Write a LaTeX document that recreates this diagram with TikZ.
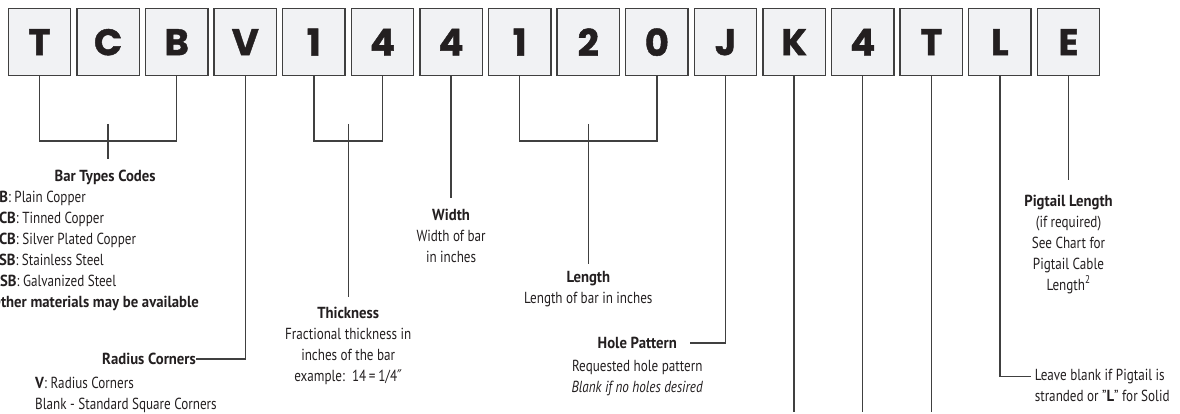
\documentclass[tikz,border=0pt]{standalone}
\usepackage{fontspec}
\setmainfont{PT Sans}[FakeStretch=0.82, BoldFeatures={FakeStretch=0.92}]
\newfontfamily\codefont{Poppins}[BoldFeatures={FakeBold=1.2}]
\newfontfamily\symfont{DejaVu Sans}[FakeStretch=0.82]
\usetikzlibrary{positioning,calc}
\definecolor{boxfill}{HTML}{F1F2F4}
\definecolor{boxline}{HTML}{404040}
\definecolor{inkdark}{HTML}{231F20}

\begin{document}
\begin{tikzpicture}[
    x=1pt, y=1pt,
    node distance=6.1pt,
    every node/.style={text=inkdark, font=\fontsize{16}{21}\selectfont},
    codebox/.style={rectangle, draw=boxline, line width=1.4pt, fill=boxfill,
                    minimum width=62.5pt, minimum height=67pt,
                    inner sep=0pt, outer sep=0pt,
                    font=\codefont\bfseries\fontsize{37}{37}\selectfont},
    conn/.style={draw=boxline, line width=1.3pt},
    head/.style={inner sep=0pt, font=\fontsize{16}{21}\selectfont\bfseries},
    desc/.style={inner sep=0pt, align=center},
  ]
  \useasboundingbox (0,0) rectangle (1180,414);

  % Code boxes
  \node[codebox] (typeT) at (39.5,371.8) {T};
  \node[codebox, right=of typeT]    (typeC)    {C};
  \node[codebox, right=of typeC]    (typeB)    {B};
  \node[codebox, right=of typeB]    (radius)   {V};
  \node[codebox, right=of radius]   (thickA)   {1};
  \node[codebox, right=of thickA]   (thickB)   {4};
  \node[codebox, right=of thickB]   (widthbox) {4};
  \node[codebox, right=of widthbox] (lenA)     {1};
  \node[codebox, right=of lenA]     (lenB)     {2};
  \node[codebox, right=of lenB]     (lenC)     {0};
  \node[codebox, right=of lenC]     (hole)     {J};
  \node[codebox, right=of hole]     (codeK)    {K};
  \node[codebox, right=of codeK]    (code4)    {4};
  \node[codebox, right=of code4]    (codeT)    {T};
  \node[codebox, right=of codeT]    (solid)    {L};
  \node[codebox, right=of solid]    (pigtail)  {E};

  % Bar type codes
  \draw[conn] (typeT.south) -- ++(0,-65.3) -| (typeB.south);
  \coordinate[below=48.3pt of typeC] (typestem);
  \coordinate[below=83.3pt of typeC] (typefoot);
  \draw[conn] (typestem) -- (typefoot);
  \node[head, below=11pt of typefoot, xshift=-3pt] (typetitle) {Bar Types Codes};
  \node[desc, align=left, anchor=north west] (typelist) at (-9,223)
    {\textbf{CB}: Plain Copper\\
     \textbf{TCB}: Tinned Copper\\
     \textbf{SCB}: Silver Plated Copper\\
     \textbf{SSB}: Stainless Steel\\
     \textbf{GSB}: Galvanized Steel\\
     \textbf{Other materials may be available}};

  % Radius corners
  \node[head, anchor=east] (radtitle) at (196,55) {Radius Corners};
  \draw[conn] (radius.south) |- (radtitle.east);
  \node[desc, align=left, anchor=north west] (radlist) at (35,37)
    {\textbf{V}: Radius Corners\\Blank - Standard Square Corners};

  % Thickness
  \draw[conn] (thickA.south) -- ++(0,-65.3) -| (thickB.south);
  \coordinate (thickstem) at ($(thickA.south)!.5!(thickB.south)+(0,-48.3)$);
  \coordinate (thickfoot) at ($(thickstem)+(0,-173)$);
  \draw[conn] (thickstem) -- (thickfoot);
  \node[desc, below=9.5pt of thickfoot] (thicktext)
    {\textbf{Thickness}\\Fractional thickness in\\inches of the bar\\example:\ \ 14\,=\,1/4{\symfont ″}};

  % Width
  \coordinate[below=122.3pt of widthbox] (widthfoot);
  \draw[conn] (widthbox.south) -- (widthfoot);
  \node[desc, below=10.5pt of widthfoot] (widthtext)
    {\textbf{Width}\\Width of bar\\in inches};

  % Length
  \coordinate (lenstem) at ($(lenA.south)!.5!(lenC.south)+(0,-48.3)$);
  \draw[conn] (lenA.south) -- ++(0,-65.3) -| (lenC.south);
  \coordinate (lenfoot) at ($(lenstem)+(0,-140)$);
  \draw[conn] (lenstem) -- (lenfoot);
  \node[desc, below=7pt of lenfoot] (lentext)
    {\textbf{Length}\\Length of bar in inches};

  % Hole pattern
  \coordinate[below=267.3pt of hole] (holecorner);
  \node[head, anchor=east] (holetitle) at ($(holecorner)+(-48.5,0)$) {Hole Pattern};
  \coordinate[right=13pt of holetitle] (holeend);
  \draw[conn] (hole.south) |- (holeend);
  \node[desc, below=11pt of holetitle] (holetext)
    {Requested hole pattern\\\textit{Blank if no holes desired}};

  % Open ends
  \coordinate (floor) at (0,2);
  \draw[conn] (codeK.south) -- (codeK.south |- floor);
  \draw[conn] (code4.south) -- (code4.south |- floor);
  \draw[conn] (codeT.south) -- (codeT.south |- floor);

  % Solid pigtail
  \coordinate[below=301pt of solid] (solidcorner);
  \coordinate[right=30.7pt of solidcorner] (solidend);
  \draw[conn] (solid.south) |- (solidend);
  \node[desc, align=left, anchor=north west] (solidnote) at ($(solidend)+(4,7.5)$)
    {Leave blank if Pigtail is\\stranded or "\textbf{L}" for Solid};

  % Pigtail length
  \coordinate[below=104.3pt of pigtail] (pigfoot);
  \draw[conn] (pigtail.south) -- (pigfoot);
  \node[desc, below=14.5pt of pigfoot] (pigtext)
    {\textbf{Pigtail Length}\\(if required)\\See Chart for\\Pigtail Cable\\Length\textsuperscript{2}};
\end{tikzpicture}
\end{document}
